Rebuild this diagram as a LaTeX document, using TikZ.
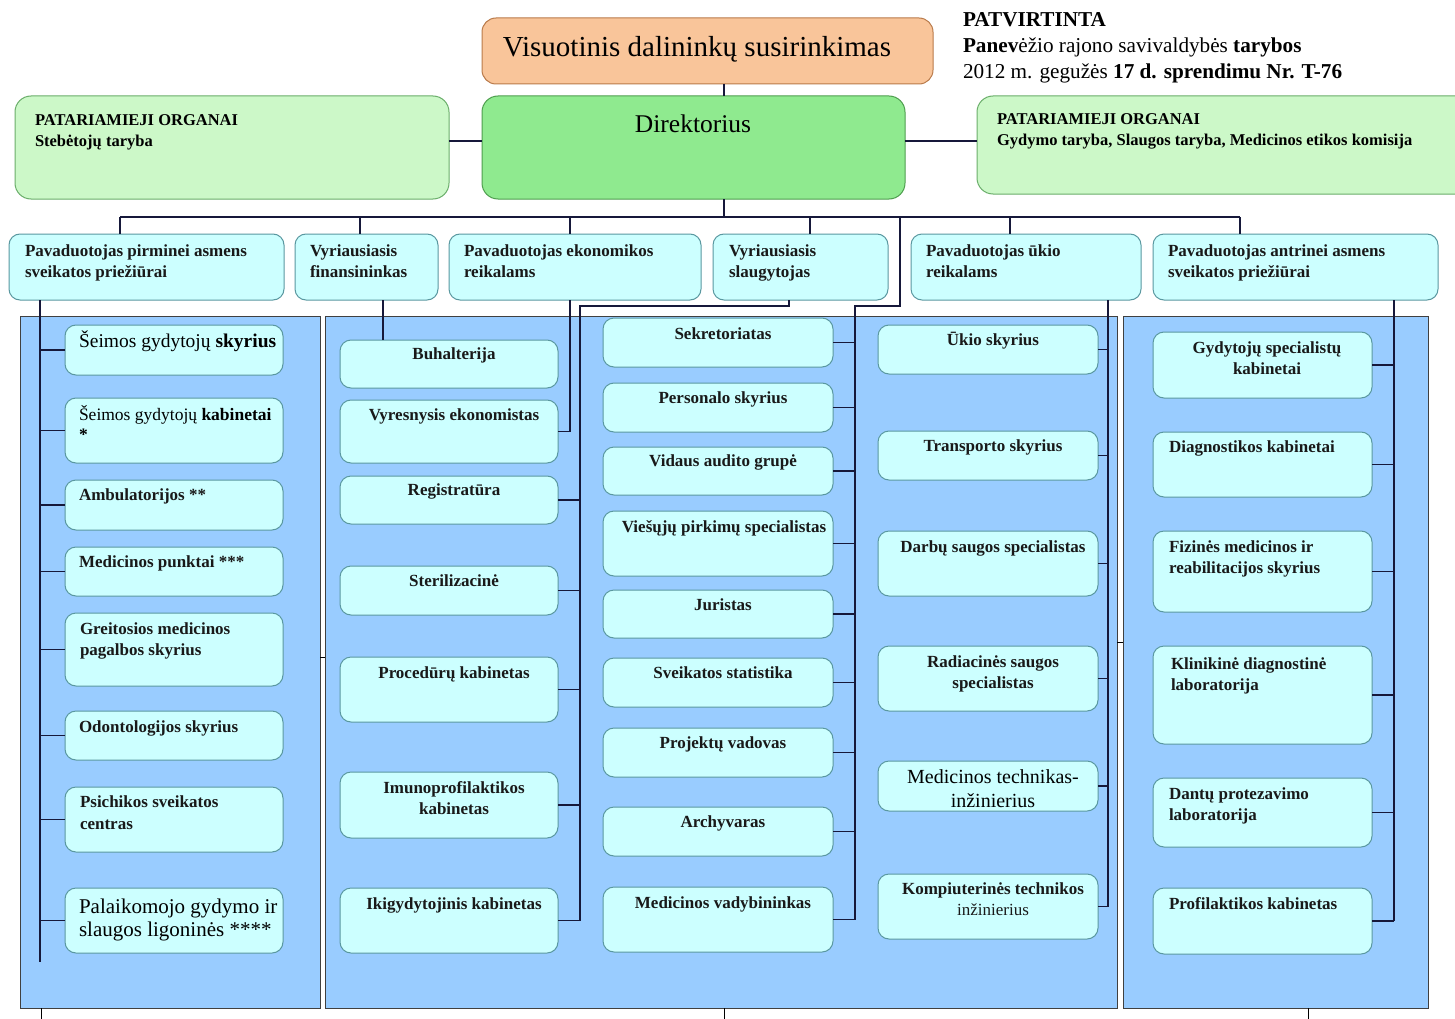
\documentclass[tikz,border=0pt]{standalone}
\usepackage{fontspec}
\setmainfont{Liberation Serif}
\usetikzlibrary{calc}

\definecolor{panelblue}{HTML}{99CCFF}
\definecolor{cellfill}{HTML}{CCFFFF}
\definecolor{celledge}{HTML}{5A98A0}
\definecolor{headfill}{HTML}{8FEA8F}
\definecolor{headedge}{HTML}{4E9E4E}
\definecolor{advfill}{HTML}{CCF8C8}
\definecolor{advedge}{HTML}{6AAE6A}
\definecolor{topfill}{HTML}{F9C59A}
\definecolor{topedge}{HTML}{B97A4A}
\definecolor{wire}{HTML}{16183A}

% box from its corners: name, x1, y1, x2, y2, style
\newcommand\orgbox[6]{%
  \node[#6, minimum width={#4-#2}, minimum height={#5-#3}] (#1) at ({(#2+#4)/2},{(#3+#5)/2}) {};}

% multi-line texts are placed by the baseline of their last line
\tikzset{
  every node/.style={inner sep=0pt, outer sep=0pt},
  cell/.style={draw=celledge, fill=cellfill, line width=1pt, rounded corners=11pt},
  panel/.style={draw=black!75, fill=panelblue, line width=0.9pt},
  headbox/.style={draw=headedge, fill=headfill, line width=1pt, rounded corners=16pt},
  advbox/.style={draw=advedge, fill=advfill, line width=1pt, rounded corners=16pt},
  topbox/.style={draw=topedge, fill=topfill, line width=1pt, rounded corners=14pt},
  wire/.style={draw=wire, line width=1.5pt},
  stub/.style={draw=black, line width=1pt},
  tx/.style={font=\fontsize{17}{21}\selectfont\bfseries, align=left, text=black!90},
  txc/.style={tx, align=center, anchor=base},
  txl/.style={tx, anchor=base west},
}

\begin{document}
\begin{tikzpicture}[x=1pt, y=-1pt]
\useasboundingbox (0,0) rectangle (1455,1019);
\clip (0,0) rectangle (1455,1019);
\fill[white] (0,0) rectangle (1455,1019);

% ---------- top level ----------
\orgbox{vis}{482}{18}{933}{84}{topbox}
\orgbox{dir}{482}{96}{905}{199}{headbox}
\orgbox{advL}{15}{96}{449}{199}{advbox}
\orgbox{advR}{977}{96}{1475}{194}{advbox}

\node[font=\fontsize{29}{34}\selectfont, anchor=base] (visT) at (697,57) {Visuotinis dalininkų susirinkimas};
\node[font=\fontsize{25.5}{30}\selectfont, anchor=base] (dirT) at (693,133) {Direktorius};
\node[font=\fontsize{16.5}{21}\selectfont\bfseries, anchor=base west, align=left] (advLT) at (35,147)
  {PATARIAMIEJI ORGANAI\\Stebėtojų taryba};
\node[font=\fontsize{16.5}{21}\selectfont\bfseries, anchor=base west, align=left] (advRT) at (997,146)
  {PATARIAMIEJI ORGANAI\\Gydymo taryba, Slaugos taryba, Medicinos etikos komisija};
\node[font=\fontsize{21.2}{26}\selectfont, anchor=base west, align=left] (approval) at (963,79)
  {\textbf{PATVIRTINTA}\\\textbf{Panev}ėžio rajono savivaldybės \textbf{tarybos}\\2012 m. gegužės \textbf{17 d. sprendimu Nr. T-76}};

% ---------- second level ----------
\orgbox{hp1}{9}{234}{284}{300}{cell}
\orgbox{hp2}{295}{234}{438}{300}{cell}
\orgbox{hp3}{449}{234}{701}{300}{cell}
\orgbox{hp4}{713}{234}{888}{300}{cell}
\orgbox{hp5}{911}{234}{1141}{300}{cell}
\orgbox{hp6}{1153}{234}{1438}{300}{cell}
\node[txl] (hp1T) at (25,277) {Pavaduotojas pirminei asmens\\sveikatos priežiūrai};
\node[txl] (hp2T) at (310,277) {Vyriausiasis\\finansininkas};
\node[txl] (hp3T) at (464,277) {Pavaduotojas ekonomikos\\reikalams};
\node[txl] (hp4T) at (729,277) {Vyriausiasis\\slaugytojas};
\node[txl] (hp5T) at (926,277) {Pavaduotojas ūkio\\reikalams};
\node[txl] (hp6T) at (1168,277) {Pavaduotojas antrinei asmens\\sveikatos priežiūrai};

% ---------- panels ----------
\orgbox{pan1}{20}{316}{320}{1008}{panel}
\orgbox{pan2}{325}{316}{1117}{1008}{panel}
\orgbox{pan3}{1123}{316}{1428}{1008}{panel}

% ---------- connectors ----------
\coordinate (trunk) at (724,217);
\draw[wire] (vis.south -| trunk) -- (dir.north -| trunk);
\draw[wire] (dir.south -| trunk) -- (trunk);
\coordinate (busL) at (120,217);
\coordinate (busR) at (1240,217);
\draw[wire] (busL) -- (busR);
\foreach \n/\x in {hp1/120,hp2/360,hp3/570,hp4/810,hp5/1010,hp6/1240}{
  \coordinate (drop\n) at (\x,217);
  \draw[wire] (drop\n) -- (drop\n |- \n.north);
}
\coordinate (advy) at (0,141);
\draw[wire] (advL.east |- advy) -- (dir.west |- advy);
\draw[wire] (dir.east |- advy) -- (advR.west |- advy);

% ---------- column 1 ----------
\orgbox{c1a}{65}{325}{283}{375}{cell}
\orgbox{c1b}{65}{398}{283}{463}{cell}
\orgbox{c1c}{65}{480}{283}{530}{cell}
\orgbox{c1d}{65}{547}{283}{596}{cell}
\orgbox{c1e}{65}{613}{283}{686}{cell}
\orgbox{c1f}{65}{711}{283}{760}{cell}
\orgbox{c1g}{65}{787}{283}{852}{cell}
\orgbox{c1h}{65}{888}{283}{953}{cell}
\node[font=\fontsize{19.5}{23}\selectfont, anchor=base west] (c1aT) at (79,347) {Šeimos gydytojų \textbf{skyrius}};
\node[font=\fontsize{17.5}{20}\selectfont, anchor=base west, align=left] (c1bT) at (79,440) {Šeimos gydytojų \textbf{kabinetai}\\\textbf{*}};
\node[txl] (c1cT) at (79,500) {Ambulatorijos **};
\node[txl] (c1dT) at (79,567) {Medicinos punktai ***};
\node[txl] (c1eT) at (80,655) {Greitosios medicinos\\pagalbos skyrius};
\node[txl] (c1fT) at (79,732) {Odontologijos skyrius};
\node[txl, font=\fontsize{17}{22}\selectfont\bfseries] (c1gT) at (80,829) {Psichikos sveikatos\\centras};
\node[font=\fontsize{21}{23}\selectfont, anchor=base west, align=left] (c1hT) at (79,936) {Palaikomojo gydymo ir\\slaugos ligoninės ****};

\coordinate (k1) at (40,962);
\draw[wire] (hp1.south -| k1) -- (k1);
\foreach \b in {c1a,c1b,c1c,c1d,c1e,c1f,c1g,c1h}
  \draw[wire] (\b.west) -- (\b.west -| k1);

% ---------- column 2 ----------
\orgbox{c2a}{340}{340}{558}{388}{cell}
\orgbox{c2b}{340}{400}{558}{463}{cell}
\orgbox{c2c}{340}{476}{558}{524}{cell}
\orgbox{c2d}{340}{566}{558}{615}{cell}
\orgbox{c2e}{340}{657}{558}{722}{cell}
\orgbox{c2f}{340}{772}{558}{838}{cell}
\orgbox{c2g}{340}{888}{558}{953}{cell}
\node[txc] (c2aT) at (454,359) {Buhalterija};
\node[txc] (c2bT) at (454,420) {Vyresnysis ekonomistas};
\node[txc] (c2cT) at (454,495) {Registratūra};
\node[txc] (c2dT) at (454,586) {Sterilizacinė};
\node[txc] (c2eT) at (454,678) {Procedūrų kabinetas};
\node[txc] (c2fT) at (454,814) {Imunoprofilaktikos\\kabinetas};
\node[txc] (c2gT) at (454,909) {Ikigydytojinis kabinetas};

\coordinate (k2) at (383,0);
\draw[wire] (hp2.south -| k2) -- (c2a.north -| k2);
\coordinate (k3) at (570,0);
\draw[wire] (hp3.south -| k3) |- (c2b.east);
\coordinate (k4) at (789,306);
\coordinate (k5) at (580,306);
\draw[wire] (hp4.south -| k4) -- (k4) -- (k5) -- (k5 |- c2g.east);
\foreach \b in {c2c,c2d,c2e,c2f,c2g}
  \draw[wire] (\b.east) -- (\b.east -| k5);

% ---------- column 3 ----------
\orgbox{c3a}{603}{318}{833}{367}{cell}
\orgbox{c3b}{603}{383}{833}{432}{cell}
\orgbox{c3c}{603}{447}{833}{495}{cell}
\orgbox{c3d}{603}{511}{833}{576}{cell}
\orgbox{c3e}{603}{590}{833}{638}{cell}
\orgbox{c3f}{603}{658}{833}{707}{cell}
\orgbox{c3g}{603}{728}{833}{777}{cell}
\orgbox{c3h}{603}{807}{833}{856}{cell}
\orgbox{c3i}{603}{887}{833}{952}{cell}
\node[txc] (c3aT) at (723,339) {Sekretoriatas};
\node[txc] (c3bT) at (723,403) {Personalo skyrius};
\node[txc] (c3cT) at (723,466) {Vidaus audito grupė};
\node[txc] (c3dT) at (724,532) {Viešųjų pirkimų specialistas};
\node[txc] (c3eT) at (723,610) {Juristas};
\node[txc] (c3fT) at (723,678) {Sveikatos statistika};
\node[txc] (c3gT) at (723,748) {Projektų vadovas};
\node[txc] (c3hT) at (723,827) {Archyvaras};
\node[txc] (c3iT) at (723,908) {Medicinos vadybininkas};

\coordinate (k6) at (900,306);
\coordinate (k7) at (855,306);
\draw[wire] (k6 |- busL) -- (k6) -- (k7) -- (k7 |- c3i.east);
\foreach \b in {c3a,c3b,c3c,c3d,c3e,c3f,c3g,c3h,c3i}
  \draw[wire] (\b.east) -- (\b.east -| k7);

% ---------- column 4 ----------
\orgbox{c4a}{878}{325}{1098}{374}{cell}
\orgbox{c4b}{878}{431}{1098}{480}{cell}
\orgbox{c4c}{878}{531}{1098}{596}{cell}
\orgbox{c4d}{878}{646}{1098}{711}{cell}
\orgbox{c4e}{878}{761}{1098}{811}{cell}
\orgbox{c4f}{878}{874}{1098}{939}{cell}
\node[txc] (c4aT) at (993,345) {Ūkio skyrius};
\node[txc] (c4bT) at (993,451) {Transporto skyrius};
\node[txc] (c4cT) at (993,552) {Darbų saugos specialistas};
\node[txc] (c4dT) at (993,688) {Radiacinės saugos\\specialistas};
\node[font=\fontsize{20}{24}\selectfont, align=center, anchor=base] (c4eT) at (993,807) {Medicinos technikas-\\inžinierius};
\node[txc] (c4fT) at (993,915) {Kompiuterinės technikos\\\mdseries inžinierius};

\coordinate (k8) at (1108,0);
\draw[wire] (hp5.south -| k8) -- (c4f.east -| k8);
\foreach \b in {c4a,c4b,c4c,c4d,c4e,c4f}
  \draw[wire] (\b.east) -- (\b.east -| k8);

% ---------- column 5 ----------
\orgbox{c5a}{1153}{332}{1372}{398}{cell}
\orgbox{c5b}{1153}{432}{1372}{497}{cell}
\orgbox{c5c}{1153}{531}{1372}{612}{cell}
\orgbox{c5d}{1153}{646}{1372}{744}{cell}
\orgbox{c5e}{1153}{778}{1372}{847}{cell}
\orgbox{c5f}{1153}{888}{1372}{954}{cell}
\node[txc] (c5aT) at (1267,374) {Gydytojų specialistų\\kabinetai};
\node[txl] (c5bT) at (1169,452) {Diagnostikos kabinetai};
\node[txl] (c5cT) at (1169,573) {Fizinės medicinos ir\\reabilitacijos skyrius};
\node[txl] (c5dT) at (1171,690) {Klinikinė diagnostinė\\laboratorija};
\node[txl] (c5eT) at (1169,820) {Dantų protezavimo\\laboratorija};
\node[txl] (c5fT) at (1169,909) {Profilaktikos kabinetas};

\coordinate (k9) at (1394,0);
\draw[wire] (hp6.south -| k9) -- (c5f.east -| k9);
\foreach \b in {c5a,c5b,c5c,c5d,c5e,c5f}
  \draw[wire] (\b.east) -- (\b.east -| k9);

% ---------- links below and between the panels ----------
\coordinate (s1) at (41,0);
\coordinate (s2) at (724,0);
\coordinate (s3) at (1308,0);
\draw[stub] (pan1.south -| s1) -- ++(0,14);
\draw[stub] (pan2.south -| s2) -- ++(0,14);
\draw[stub] (pan3.south -| s3) -- ++(0,14);
\coordinate (g1) at (0,657);
\coordinate (g2) at (0,642);
\draw[stub] (pan1.east |- g1) -- (pan2.west |- g1);
\draw[stub] (pan2.east |- g2) -- (pan3.west |- g2);
\end{tikzpicture}
\end{document}
